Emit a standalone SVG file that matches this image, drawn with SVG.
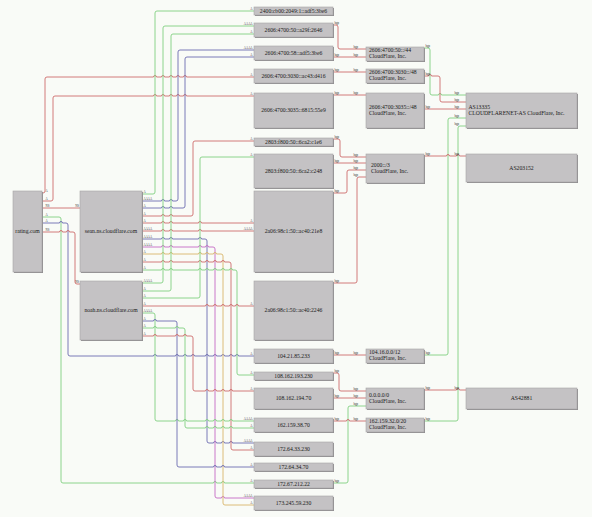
<svg xmlns="http://www.w3.org/2000/svg" width="592" height="517" viewBox="0 0 592 517">
<style>
.bg{fill:#f9fbf7}
.n .s{fill:#8f8d8f}
.n .f{fill:#c4c2c4;stroke:#a7a5a7;stroke-width:.6}
.n text{font-family:"Liberation Serif","Times New Roman",serif;font-size:5.7px;fill:#1a1a1a}
.c path{fill:none;stroke-width:.9}
.r{stroke:#cd6b6b}
.g{stroke:#80cf80}
.b{stroke:#6b6bb0}
.m{stroke:#c46ac4}
.o{stroke:#d8b46a}
.c text{font-family:"Liberation Serif","Times New Roman",serif;font-size:3px;fill:#333}
.c .e{text-anchor:end}
</style>
<rect class="bg" x="0" y="0" width="592" height="517"/>
<g id="connectors" class="c">
<path class="r" d="M42,193 H43 Q45,193 45,191 V79 Q45,77 47,77 H153.5 a1.5 1.5 0 0 1 3 0 H161.5 a1.5 1.5 0 0 1 3 0 H169.5 a1.5 1.5 0 0 1 3 0 H176.5 a1.5 1.5 0 0 1 3 0 H183.5 a1.5 1.5 0 0 1 3 0 H254"/>
<path class="r" d="M42,201 H51 Q53,201 53,199 V98 Q53,96 55,96 H153.5 a1.5 1.5 0 0 1 3 0 H161.5 a1.5 1.5 0 0 1 3 0 H169.5 a1.5 1.5 0 0 1 3 0 H176.5 a1.5 1.5 0 0 1 3 0 H183.5 a1.5 1.5 0 0 1 3 0 H254"/>
<path class="r" d="M42,208 H80"/>
<path class="g" d="M42,217 H59 Q61,217 61,219 V481 Q61,483 63,483 H213.5 a1.5 1.5 0 0 1 3 0 H221.5 a1.5 1.5 0 0 1 3 0 H254"/>
<path class="b" d="M42,223 H59.5 a1.5 1.5 0 0 1 3 0 H66 Q68,223 68,225 V354 Q68,356 70,356 H153.5 a1.5 1.5 0 0 1 3 0 H175.5 a1.5 1.5 0 0 1 3 0 H183.5 a1.5 1.5 0 0 1 3 0 H191.5 a1.5 1.5 0 0 1 3 0 H205.5 a1.5 1.5 0 0 1 3 0 H213.5 a1.5 1.5 0 0 1 3 0 H221.5 a1.5 1.5 0 0 1 3 0 H229.5 a1.5 1.5 0 0 1 3 0 H235.5 a1.5 1.5 0 0 1 3 0 H254"/>
<path class="r" d="M42,232 H59.5 a1.5 1.5 0 0 1 3 0 H66.5 a1.5 1.5 0 0 1 3 0 H73 Q75,232 75,234 V282 Q75,284 77,284 H80"/>
<path class="g" d="M142,194 H153 Q155,194 155,192 V13 Q155,11 157,11 H254"/>
<path class="b" d="M142,201 H161.5 a1.5 1.5 0 0 1 3 0 H169.5 a1.5 1.5 0 0 1 3 0 H176 Q178,201 178,199 V52 Q178,50 180,50 H254"/>
<path class="b" d="M142,208 H161.5 a1.5 1.5 0 0 1 3 0 H169.5 a1.5 1.5 0 0 1 3 0 H183 Q185,208 185,206 V59 Q185,57 187,57 H254"/>
<path class="r" d="M142,216 H161.5 a1.5 1.5 0 0 1 3 0 H169.5 a1.5 1.5 0 0 1 3 0 H191 Q193,216 193,214 V143 Q193,141 195,141 H254"/>
<path class="r" d="M142,223 H161.5 a1.5 1.5 0 0 1 3 0 H169.5 a1.5 1.5 0 0 1 3 0 H198.5 a1.5 1.5 0 0 1 3 0 H254"/>
<path class="r" d="M142,231 H161.5 a1.5 1.5 0 0 1 3 0 H169.5 a1.5 1.5 0 0 1 3 0 H198.5 a1.5 1.5 0 0 1 3 0 H254"/>
<path class="b" d="M142,239 H161.5 a1.5 1.5 0 0 1 3 0 H169.5 a1.5 1.5 0 0 1 3 0 H198.5 a1.5 1.5 0 0 1 3 0 H205 Q207,239 207,241 V441 Q207,443 209,443 H213.5 a1.5 1.5 0 0 1 3 0 H221.5 a1.5 1.5 0 0 1 3 0 H229.5 a1.5 1.5 0 0 1 3 0 H254"/>
<path class="m" d="M142,247 H161.5 a1.5 1.5 0 0 1 3 0 H169.5 a1.5 1.5 0 0 1 3 0 H198.5 a1.5 1.5 0 0 1 3 0 H205.5 a1.5 1.5 0 0 1 3 0 H213 Q215,247 215,249 V496 Q215,498 217,498 H221.5 a1.5 1.5 0 0 1 3 0 H254"/>
<path class="o" d="M142,254 H161.5 a1.5 1.5 0 0 1 3 0 H169.5 a1.5 1.5 0 0 1 3 0 H198.5 a1.5 1.5 0 0 1 3 0 H205.5 a1.5 1.5 0 0 1 3 0 H213.5 a1.5 1.5 0 0 1 3 0 H221 Q223,254 223,256 V503 Q223,505 225,505 H254"/>
<path class="r" d="M142,262 H161.5 a1.5 1.5 0 0 1 3 0 H169.5 a1.5 1.5 0 0 1 3 0 H198.5 a1.5 1.5 0 0 1 3 0 H205.5 a1.5 1.5 0 0 1 3 0 H213.5 a1.5 1.5 0 0 1 3 0 H221.5 a1.5 1.5 0 0 1 3 0 H229 Q231,262 231,264 V448 Q231,450 233,450 H254"/>
<path class="g" d="M142,270 H161.5 a1.5 1.5 0 0 1 3 0 H169.5 a1.5 1.5 0 0 1 3 0 H198.5 a1.5 1.5 0 0 1 3 0 H205.5 a1.5 1.5 0 0 1 3 0 H213.5 a1.5 1.5 0 0 1 3 0 H221.5 a1.5 1.5 0 0 1 3 0 H229.5 a1.5 1.5 0 0 1 3 0 H235 Q237,270 237,272 V373 Q237,375 239,375 H254"/>
<path class="g" d="M142,283 H161 Q163,283 163,281 V28 Q163,26 165,26 H254"/>
<path class="g" d="M142,291 H169 Q171,291 171,289 V36 Q171,34 173,34 H254"/>
<path class="g" d="M142,298 H198 Q200,298 200,296 V159 Q200,157 202,157 H254"/>
<path class="r" d="M142,306 H205.5 a1.5 1.5 0 0 1 3 0 H213.5 a1.5 1.5 0 0 1 3 0 H221.5 a1.5 1.5 0 0 1 3 0 H229.5 a1.5 1.5 0 0 1 3 0 H235.5 a1.5 1.5 0 0 1 3 0 H254"/>
<path class="g" d="M142,313 H153 Q155,313 155,315 V419 Q155,421 157,421 H175.5 a1.5 1.5 0 0 1 3 0 H183.5 a1.5 1.5 0 0 1 3 0 H205.5 a1.5 1.5 0 0 1 3 0 H213.5 a1.5 1.5 0 0 1 3 0 H221.5 a1.5 1.5 0 0 1 3 0 H229.5 a1.5 1.5 0 0 1 3 0 H254"/>
<path class="b" d="M142,321 H153.5 a1.5 1.5 0 0 1 3 0 H175 Q177,321 177,323 V465 Q177,467 179,467 H213.5 a1.5 1.5 0 0 1 3 0 H221.5 a1.5 1.5 0 0 1 3 0 H254"/>
<path class="g" d="M142,328 H153.5 a1.5 1.5 0 0 1 3 0 H175.5 a1.5 1.5 0 0 1 3 0 H183 Q185,328 185,330 V426 Q185,428 187,428 H205.5 a1.5 1.5 0 0 1 3 0 H213.5 a1.5 1.5 0 0 1 3 0 H221.5 a1.5 1.5 0 0 1 3 0 H229.5 a1.5 1.5 0 0 1 3 0 H254"/>
<path class="r" d="M142,336 H153.5 a1.5 1.5 0 0 1 3 0 H175.5 a1.5 1.5 0 0 1 3 0 H183.5 a1.5 1.5 0 0 1 3 0 H191 Q193,336 193,338 V389 Q193,391 195,391 H205.5 a1.5 1.5 0 0 1 3 0 H213.5 a1.5 1.5 0 0 1 3 0 H221.5 a1.5 1.5 0 0 1 3 0 H229.5 a1.5 1.5 0 0 1 3 0 H254"/>
<path class="r" d="M333,25 H336 Q338,25 338,27 V47 Q338,49 340,49 H366"/>
<path class="r" d="M333,57 H366"/>
<path class="r" d="M333,72 H366"/>
<path class="r" d="M333,95 H366"/>
<path class="r" d="M333,139 H338 Q340,139 340,141 V155 Q340,157 342,157 H366"/>
<path class="r" d="M333,163 H366"/>
<path class="r" d="M333,193 H345 Q347,193 347,191 V172 Q347,170 349,170 H366"/>
<path class="r" d="M333,283 H355 Q357,283 357,281 V179 Q357,177 359,177 H366"/>
<path class="r" d="M333,355 H366"/>
<path class="r" d="M333,373 H337 Q339,373 339,375 V389 Q339,391 341,391 H366"/>
<path class="r" d="M333,398 H366"/>
<path class="g" d="M333,483 H346 Q348,483 348,481 V408 Q348,406 350,406 H366"/>
<path class="r" d="M333,421 H346.5 a1.5 1.5 0 0 1 3 0 H366"/>
<path class="g" d="M424,48 H428 Q430,48 430,50 V93 Q430,95 432,95 H438.5 a1.5 1.5 0 0 1 3 0 H466"/>
<path class="r" d="M424,76 H428.5 a1.5 1.5 0 0 1 3 0 H438 Q440,76 440,78 V100 Q440,102 442,102 H466"/>
<path class="r" d="M424,109 H466"/>
<path class="g" d="M424,355 H446 Q448,355 448,353 V120 Q448,118 450,118 H466"/>
<path class="g" d="M424,421 H456 Q458,421 458,419 V128 Q458,126 460,126 H466"/>
<path class="r" d="M424,156 H446.5 a1.5 1.5 0 0 1 3 0 H456.5 a1.5 1.5 0 0 1 3 0 H466"/>
<path class="r" d="M424,390 H456.5 a1.5 1.5 0 0 1 3 0 H466"/>
<g id="edge-labels">
<text x="45.5" y="192">A</text><text x="45.5" y="200">A</text><text x="45.5" y="207">NS</text><text x="45.5" y="216">A</text><text x="45.5" y="222">A</text><text x="45.5" y="231">NS</text>
<text class="e" x="252.5" y="76">A</text><text class="e" x="252.5" y="95">A</text><text class="e" x="79" y="207">NS</text><text class="e" x="252.5" y="482">A</text><text class="e" x="252.5" y="355">A</text><text class="e" x="79" y="283">NS</text>
<text x="143.5" y="193">A</text><text x="143.5" y="200">AAAA</text><text x="143.5" y="207">A</text><text x="143.5" y="215">A</text><text x="143.5" y="222">A</text><text x="143.5" y="230">AAAA</text><text x="143.5" y="238">AAAA</text><text x="143.5" y="246">AAAA</text><text x="143.5" y="253">A</text><text x="143.5" y="261">A</text><text x="143.5" y="269">A</text>
<text class="e" x="252.5" y="10">A</text><text class="e" x="252.5" y="49">AAAA</text><text class="e" x="252.5" y="56">A</text><text class="e" x="252.5" y="140">A</text><text class="e" x="252.5" y="222">A</text><text class="e" x="252.5" y="230">AAAA</text><text class="e" x="252.5" y="442">AAAA</text><text class="e" x="252.5" y="497">AAAA</text><text class="e" x="252.5" y="504">A</text><text class="e" x="252.5" y="449">A</text><text class="e" x="252.5" y="374">A</text>
<text x="143.5" y="282">AAAA</text><text x="143.5" y="290">A</text><text x="143.5" y="297">A</text><text x="143.5" y="305">A</text><text x="143.5" y="312">AAAA</text><text x="143.5" y="320">A</text><text x="143.5" y="327">A</text><text x="143.5" y="335">A</text>
<text class="e" x="252.5" y="25">AAAA</text><text class="e" x="252.5" y="33">A</text><text class="e" x="252.5" y="156">A</text><text class="e" x="252.5" y="305">A</text><text class="e" x="252.5" y="420">AAAA</text><text class="e" x="252.5" y="466">A</text><text class="e" x="252.5" y="427">A</text><text class="e" x="252.5" y="390">A</text>
<text x="334.5" y="24">bgp</text><text x="334.5" y="56">bgp</text><text x="334.5" y="71">bgp</text><text x="334.5" y="94">bgp</text><text x="334.5" y="138">bgp</text><text x="334.5" y="162">bgp</text><text x="334.5" y="192">bgp</text><text x="334.5" y="282">bgp</text><text x="334.5" y="354">bgp</text><text x="334.5" y="372">bgp</text><text x="334.5" y="397">bgp</text><text x="334.5" y="482">bgp</text><text x="334.5" y="420">bgp</text>
<text class="e" x="358" y="48">bgp</text><text class="e" x="358" y="56">bgp</text><text class="e" x="358" y="71">bgp</text><text class="e" x="358" y="94">bgp</text><text class="e" x="358" y="156">bgp</text><text class="e" x="358" y="162">bgp</text><text class="e" x="358" y="169">bgp</text><text class="e" x="358" y="176">bgp</text><text class="e" x="358" y="354">bgp</text><text class="e" x="358" y="390">bgp</text><text class="e" x="358" y="397">bgp</text><text class="e" x="358" y="405">bgp</text><text class="e" x="358" y="420">bgp</text>
<text x="425.5" y="47">bgp</text><text x="425.5" y="75">bgp</text><text x="425.5" y="108">bgp</text><text x="425.5" y="155">bgp</text><text x="425.5" y="354">bgp</text><text x="425.5" y="420">bgp</text><text x="425.5" y="389">bgp</text>
<text class="e" x="459" y="94">bgp</text><text class="e" x="459" y="101">bgp</text><text class="e" x="459" y="108">bgp</text><text class="e" x="459" y="155">bgp</text><text class="e" x="459" y="117">bgp</text><text class="e" x="459" y="125">bgp</text><text class="e" x="459" y="389">bgp</text>
</g>
</g>
<g id="n-rating" class="n"><rect class="s" x="14" y="192" width="29" height="81"/><rect class="f" x="13" y="191" width="29" height="81"/><text x="27.5" y="233.2" text-anchor="middle">rating.com</text></g>
<g id="n-sean" class="n"><rect class="s" x="81" y="192" width="62" height="81"/><rect class="f" x="80" y="191" width="62" height="81"/><text x="111" y="233.2" text-anchor="middle">sean.ns.cloudflare.com</text></g>
<g id="n-noah" class="n"><rect class="s" x="81" y="282" width="62" height="59"/><rect class="f" x="80" y="281" width="62" height="59"/><text x="111" y="312.2" text-anchor="middle">noah.ns.cloudflare.com</text></g>
<g id="ip1" class="n"><rect class="s" x="255" y="8" width="79" height="8"/><rect class="f" x="254" y="7" width="79" height="8"/><text x="293.5" y="12.9" text-anchor="middle">2400:cb00:2049:1::adf5:3be6</text></g>
<g id="ip2" class="n"><rect class="s" x="255" y="24" width="79" height="14"/><rect class="f" x="254" y="23" width="79" height="14"/><text x="293.5" y="31.9" text-anchor="middle">2606:4700:50::a29f:2646</text></g>
<g id="ip3" class="n"><rect class="s" x="255" y="47" width="79" height="14"/><rect class="f" x="254" y="46" width="79" height="14"/><text x="293.5" y="54.9" text-anchor="middle">2606:4700:58::adf5:3be6</text></g>
<g id="ip4" class="n"><rect class="s" x="255" y="70" width="79" height="14"/><rect class="f" x="254" y="69" width="79" height="14"/><text x="293.5" y="77.9" text-anchor="middle">2606:4700:3030::ac43:d416</text></g>
<g id="ip5" class="n"><rect class="s" x="255" y="94" width="79" height="35"/><rect class="f" x="254" y="93" width="79" height="35"/><text x="293.5" y="112.4" text-anchor="middle">2606:4700:3035::6815:55e9</text></g>
<g id="ip6" class="n"><rect class="s" x="255" y="139" width="79" height="8"/><rect class="f" x="254" y="138" width="79" height="8"/><text x="293.5" y="143.9" text-anchor="middle">2803:f800:50::6ca2:c1e6</text></g>
<g id="ip7" class="n"><rect class="s" x="255" y="155" width="79" height="34"/><rect class="f" x="254" y="154" width="79" height="34"/><text x="293.5" y="172.9" text-anchor="middle">2803:f800:50::6ca2:c248</text></g>
<g id="ip8" class="n"><rect class="s" x="255" y="192" width="79" height="81"/><rect class="f" x="254" y="191" width="79" height="81"/><text x="293.5" y="233.4" text-anchor="middle">2a06:98c1:50::ac40:21e8</text></g>
<g id="ip9" class="n"><rect class="s" x="255" y="282" width="79" height="59"/><rect class="f" x="254" y="281" width="79" height="59"/><text x="293.5" y="312.4" text-anchor="middle">2a06:98c1:50::ac40:2246</text></g>
<g id="ip10" class="n"><rect class="s" x="255" y="350" width="79" height="14"/><rect class="f" x="254" y="349" width="79" height="14"/><text x="293.5" y="357.9" text-anchor="middle">104.21.85.233</text></g>
<g id="ip11" class="n"><rect class="s" x="255" y="373" width="79" height="8"/><rect class="f" x="254" y="372" width="79" height="8"/><text x="293.5" y="377.9" text-anchor="middle">108.162.193.230</text></g>
<g id="ip12" class="n"><rect class="s" x="255" y="389" width="79" height="21"/><rect class="f" x="254" y="388" width="79" height="21"/><text x="293.5" y="400.4" text-anchor="middle">108.162.194.70</text></g>
<g id="ip13" class="n"><rect class="s" x="255" y="419" width="79" height="14"/><rect class="f" x="254" y="418" width="79" height="14"/><text x="293.5" y="426.9" text-anchor="middle">162.159.38.70</text></g>
<g id="ip14" class="n"><rect class="s" x="255" y="443" width="79" height="14"/><rect class="f" x="254" y="442" width="79" height="14"/><text x="293.5" y="450.9" text-anchor="middle">172.64.33.230</text></g>
<g id="ip15" class="n"><rect class="s" x="255" y="464" width="79" height="8"/><rect class="f" x="254" y="463" width="79" height="8"/><text x="293.5" y="468.9" text-anchor="middle">172.64.34.70</text></g>
<g id="ip16" class="n"><rect class="s" x="255" y="481" width="79" height="8"/><rect class="f" x="254" y="480" width="79" height="8"/><text x="293.5" y="485.9" text-anchor="middle">172.67.212.22</text></g>
<g id="ip17" class="n"><rect class="s" x="255" y="497" width="79" height="14"/><rect class="f" x="254" y="496" width="79" height="14"/><text x="293.5" y="504.9" text-anchor="middle">173.245.59.230</text></g>
<g id="pf1" class="n"><rect class="s" x="367" y="48" width="58" height="14"/><rect class="f" x="366" y="47" width="58" height="14"/><text x="369" y="52.1">2606:4700:50::/44<tspan x="369" y="58.3">CloudFlare, Inc.</tspan></text></g>
<g id="pf2" class="n"><rect class="s" x="367" y="70" width="58" height="14"/><rect class="f" x="366" y="69" width="58" height="14"/><text x="369" y="74.1">2606:4700:3030::/48<tspan x="369" y="80.3">CloudFlare, Inc.</tspan></text></g>
<g id="pf3" class="n"><rect class="s" x="367" y="94" width="58" height="35"/><rect class="f" x="366" y="93" width="58" height="35"/><text x="369" y="108.6">2606:4700:3035::/48<tspan x="369" y="114.8">CloudFlare, Inc.</tspan></text></g>
<g id="pf4" class="n"><rect class="s" x="367" y="155" width="58" height="29"/><rect class="f" x="366" y="154" width="58" height="29"/><text x="371" y="166.6">2000::/3<tspan x="371" y="172.8">CloudFlare, Inc.</tspan></text></g>
<g id="pf5" class="n"><rect class="s" x="367" y="350" width="58" height="14"/><rect class="f" x="366" y="349" width="58" height="14"/><text x="369" y="354.1">104.16.0.0/12<tspan x="369" y="360.3">CloudFlare, Inc.</tspan></text></g>
<g id="pf6" class="n"><rect class="s" x="367" y="389" width="58" height="21"/><rect class="f" x="366" y="388" width="58" height="21"/><text x="369" y="396.6">0.0.0.0/0<tspan x="369" y="402.8">CloudFlare, Inc.</tspan></text></g>
<g id="pf7" class="n"><rect class="s" x="367" y="419" width="58" height="14"/><rect class="f" x="366" y="418" width="58" height="14"/><text x="369" y="423.1">162.159.32.0/20<tspan x="369" y="429.3">CloudFlare, Inc.</tspan></text></g>
<g id="as1" class="n"><rect class="s" x="467" y="94" width="111" height="35"/><rect class="f" x="466" y="93" width="111" height="35"/><text x="468.5" y="108.6">AS13335<tspan x="468.5" y="114.8">CLOUDFLARENET-AS CloudFlare, Inc.</tspan></text></g>
<g id="as2" class="n"><rect class="s" x="467" y="155" width="111" height="28"/><rect class="f" x="466" y="154" width="111" height="28"/><text x="521.5" y="170" text-anchor="middle">AS203152</text></g>
<g id="as3" class="n"><rect class="s" x="467" y="389" width="111" height="21"/><rect class="f" x="466" y="388" width="111" height="21"/><text x="521.5" y="400.4" text-anchor="middle">AS42881</text></g>
</svg>
